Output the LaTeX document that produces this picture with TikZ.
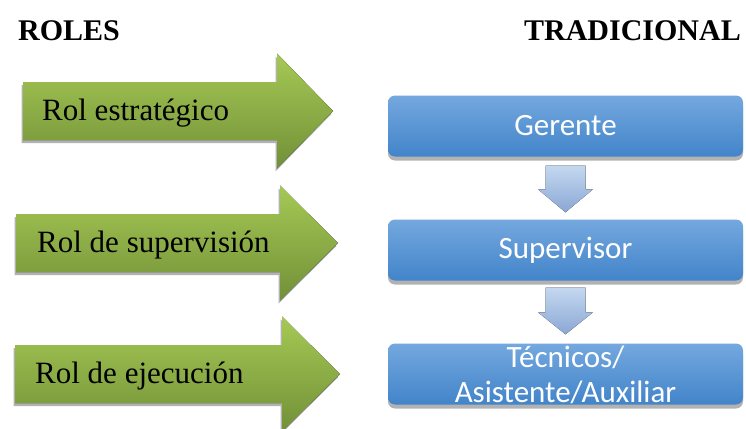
\documentclass[tikz,border=0pt]{standalone}
\usepackage{fontspec}
\setmainfont{Liberation Serif}
\newfontfamily\carlito{Carlito}
\usetikzlibrary{calc,shadows}
\definecolor{grtop}{RGB}{165,201,84}
\definecolor{grbot}{RGB}{114,144,56}
\definecolor{bltop}{RGB}{116,168,222}
\definecolor{blbot}{RGB}{66,132,202}
\definecolor{latop}{RGB}{196,215,240}
\definecolor{labot}{RGB}{138,168,212}
\newcommand\grarrow[4]{%
  \fill[greenfill] (#1,#2-29) -- (#3,#2-29) -- (#3,#2-57.5) -- (#4,#2)
    -- (#3,#2+57.5) -- (#3,#2+29) -- (#1,#2+29) -- cycle;}
\begin{document}
\begin{tikzpicture}[x=1pt,y=-1pt,
  greenfill/.style={top color=grtop,bottom color=grbot,
    drop shadow={shadow xshift=-1.5pt,shadow yshift=-3pt,opacity=.3,fill=black}},
  roletext/.style={font=\fontsize{31}{36}\selectfont,anchor=base west,inner sep=0},
  titletext/.style={font=\fontsize{30}{36}\selectfont\bfseries,inner sep=0},
  boxnode/.style={rounded corners=7pt,minimum width=355pt,minimum height=61pt,
    top color=bltop,bottom color=blbot,inner sep=0,
    drop shadow={shadow xshift=0pt,shadow yshift=-4pt,opacity=.3,fill=black}},
  boxtext/.style={text=white,font=\carlito\fontsize{31}{35}\selectfont,align=center,inner sep=0},
  downarrow/.style={top color=latop,bottom color=labot}]
\useasboundingbox (0,0) rectangle (746,428);
% titles
\node[titletext,anchor=base west] (roles) at (18,41) {ROLES};
\node[titletext,anchor=base east] (trad) at (741,41) {TRADICIONAL};
% green arrows
\grarrow{23}{111}{277}{333}
\grarrow{16}{243}{280}{338}
\grarrow{15}{374}{282}{340}
\node[roletext] (r1) at (42,120) {Rol estratégico};
\node[roletext] (r2) at (37,252) {Rol de supervisión};
\node[roletext] (r3) at (35,383) {Rol de ejecución};
% blue boxes
\node[boxnode] (g) at (565.5,126) {};
\node[boxnode] (s) at (565.5,250) {};
\node[boxnode] (t) at (565.5,374) {};
\node[boxtext] (gt) at (g.center) {Gerente};
\node[boxtext] (st) at (s.center) {Supervisor};
\node[boxtext] (tt) at ($(t.center)+(0,1)$) {Técnicos/\\Asistente/Auxiliar};
% down arrows
\fill[downarrow] ($(g.south)+(-20,9)$) -- ($(g.south)+(20,9)$) -- ($(s.north)+(20,-30)$)
  -- ($(s.north)+(27.5,-30)$) -- ($(s.north)+(0,-7)$) -- ($(s.north)+(-27.5,-30)$)
  -- ($(s.north)+(-20,-30)$) -- cycle;
\fill[downarrow] ($(s.south)+(-20,7)$) -- ($(s.south)+(20,7)$) -- ($(t.north)+(20,-31)$)
  -- ($(t.north)+(27.5,-31)$) -- ($(t.north)+(0,-9)$) -- ($(t.north)+(-27.5,-31)$)
  -- ($(t.north)+(-20,-31)$) -- cycle;
\end{tikzpicture}
\end{document}
